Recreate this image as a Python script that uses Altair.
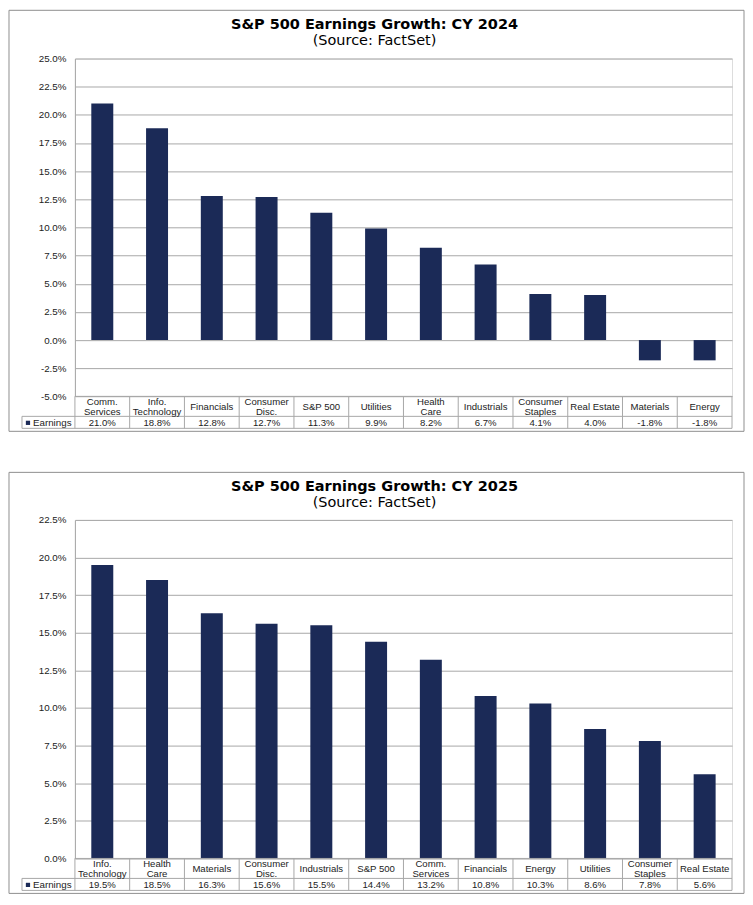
import altair as alt
import pandas as pd

# ---------------- data ----------------
cats_2024 = ["Comm.\nServices", "Info.\nTechnology", "Financials", "Consumer\nDisc.",
             "S&P 500", "Utilities", "Health\nCare", "Industrials",
             "Consumer\nStaples", "Real Estate", "Materials", "Energy"]
vals_2024 = [21.0, 18.8, 12.8, 12.7, 11.3, 9.9, 8.2, 6.7, 4.1, 4.0, -1.8, -1.8]

cats_2025 = ["Info.\nTechnology", "Health\nCare", "Materials", "Consumer\nDisc.",
             "Industrials", "S&P 500", "Comm.\nServices", "Financials",
             "Energy", "Utilities", "Consumer\nStaples", "Real Estate"]
vals_2025 = [19.5, 18.5, 16.3, 15.6, 15.5, 14.4, 13.2, 10.8, 10.3, 8.6, 7.8, 5.6]

ticks_2024 = [-5.0, -2.5, 0.0, 2.5, 5.0, 7.5, 10.0, 12.5, 15.0, 17.5, 20.0, 22.5, 25.0]
ticks_2025 = [0.0, 2.5, 5.0, 7.5, 10.0, 12.5, 15.0, 17.5, 20.0, 22.5]

title_2024 = "S&P 500 Earnings Growth: CY 2024"
title_2025 = "S&P 500 Earnings Growth: CY 2025"
subtitle = "(Source: FactSet)"
series_name = "Earnings"

# ---------------- style ----------------
FONT = "Liberation Sans"
TFONT = "DejaVu Sans"
NAVY = "#1b2a57"
GRID = "#a8a8a8"
FRAME = "#8f8f8f"
TXT = "#222222"
W = 658
PCT = "(datum.v < 0 ? '-' : '') + format(abs(datum.v), '.1f') + '%'"
MULTI = "indexof(datum.cat, '\\n') >= 0"


def panel(cats, vals, ticks, title, H, top):
    df = pd.DataFrame({"cat": cats, "v": vals})
    one = pd.DataFrame({"k": [0]})
    xenc = alt.X("cat:N", sort=cats, axis=None,
                 scale=alt.Scale(paddingInner=0, paddingOuter=0))
    base = alt.Chart(df).encode(x=xenc)

    bars = base.mark_bar(size=22, color=NAVY).encode(
        y=alt.Y("v:Q",
                scale=alt.Scale(domain=[ticks[0], ticks[-1]], nice=False),
                axis=alt.Axis(values=ticks, title=None, ticks=False,
                              labelExpr="(datum.value < 0 ? '-' : '') + format(abs(datum.value), '.1f') + '%'",
                              labelPadding=9, labelFontSize=9.8, labelFont=FONT,
                              labelColor=TXT, grid=True, gridColor=GRID,
                              domainColor=GRID)),
        y2=alt.datum(0),
    )

    txt_kw = dict(lineBreak="\n", fontSize=9.6, lineHeight=9.5, font=FONT,
                  color=TXT, baseline="middle")
    cat_text1 = base.transform_filter("!(" + MULTI + ")").mark_text(**txt_kw).encode(
        text="cat:N", y=alt.value(H + 10.5))
    cat_text2 = base.transform_filter(MULTI).mark_text(**txt_kw).encode(
        text="cat:N", y=alt.value(H + 6))

    val_text = base.transform_calculate(lbl=PCT).mark_text(
        fontSize=9.6, font=FONT, color=TXT, baseline="middle").encode(
        text="lbl:N", y=alt.value(H + 26.5))

    vlines = base.mark_rule(color=GRID, strokeWidth=1).encode(
        x=alt.X("cat:N", sort=cats, bandPosition=0, axis=None,
                scale=alt.Scale(paddingInner=0, paddingOuter=0)),
        y=alt.value(H), y2=alt.value(H + 32))

    oc = alt.Chart(one)
    right_line = oc.mark_rule(color=GRID).encode(
        x=alt.value(W), y=alt.value(H), y2=alt.value(H + 32))
    left_line = oc.mark_rule(color=GRID).encode(
        x=alt.value(-53), y=alt.value(H + 20), y2=alt.value(H + 32))
    top_line = oc.mark_rule(color=GRID).encode(
        x=alt.value(0), x2=alt.value(W), y=alt.value(H))
    mid_line = oc.mark_rule(color=GRID).encode(
        x=alt.value(-53), x2=alt.value(W), y=alt.value(H + 20))
    bot_line = oc.mark_rule(color=GRID).encode(
        x=alt.value(-53), x2=alt.value(W), y=alt.value(H + 32))

    legend_sq = oc.mark_square(size=18, color=NAVY, opacity=1).encode(
        x=alt.value(-47), y=alt.value(H + 26.5))
    legend_txt = oc.mark_text(fontSize=9.8, font=FONT, color=TXT, align="left",
                              baseline="middle").encode(
        x=alt.value(-42), y=alt.value(H + 26.5), text=alt.value(series_name))

    frame = oc.mark_rect(fillOpacity=0, stroke=FRAME, strokeWidth=1).encode(
        x=alt.value(-66), x2=alt.value(W + 12),
        y=alt.value(-top), y2=alt.value(H + 35))

    t1 = oc.mark_text(fontSize=14.5, fontWeight="bold", font=TFONT, color="#000",
                      baseline="middle").encode(
        x=alt.value(300), y=alt.value(-top + 15), text=alt.value(title))
    t2 = oc.mark_text(fontSize=14.5, font=TFONT, color="#000",
                      baseline="middle").encode(
        x=alt.value(300), y=alt.value(-top + 31), text=alt.value(subtitle))

    return alt.layer(bars, frame, top_line, mid_line, bot_line, vlines,
                     right_line, left_line, cat_text1, cat_text2, val_text,
                     legend_sq, legend_txt, t1, t2).properties(width=W, height=H)


p1 = panel(cats_2024, vals_2024, ticks_2024, title_2024, 338.3, 48.3)
p2 = panel(cats_2025, vals_2025, ticks_2025, title_2025, 339, 47.6)

chart = alt.vconcat(p1, p2, spacing=38).properties(
    padding={"top": 0, "left": 0, "right": 0, "bottom": 0}
).configure_view(stroke=None).configure(background="white")

chart.save("out.html", embed_options={"renderer": "svg", "actions": False})
